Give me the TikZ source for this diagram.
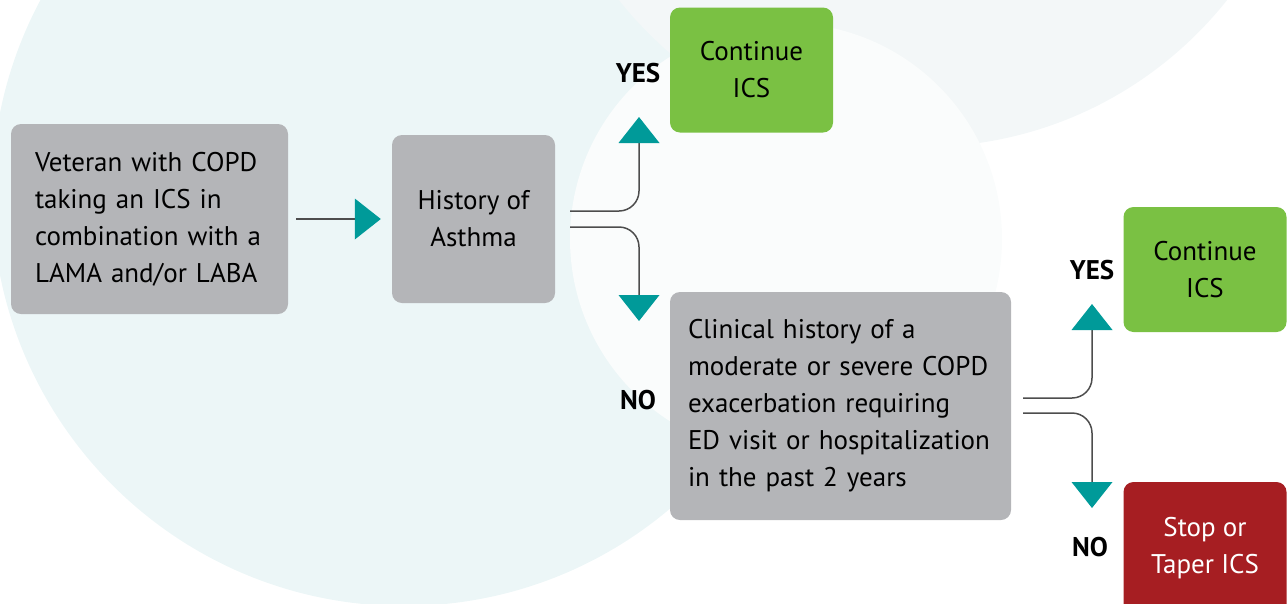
\documentclass[tikz,border=0pt]{standalone}
\usepackage{fontspec}
\setmainfont{PT Sans}
\usetikzlibrary{arrows.meta}
\definecolor{boxgrey}{HTML}{B4B5B8}
\definecolor{okgreen}{HTML}{7AC143}
\definecolor{stopred}{HTML}{A61E22}
\definecolor{arrowteal}{HTML}{009A99}
\definecolor{linegrey}{HTML}{4D4D4D}
\definecolor{bgteal}{HTML}{ECF6F7}
\definecolor{bggrey}{HTML}{F3F7F8}
\definecolor{bgwhite}{HTML}{FAFCFC}
\begin{document}
\begin{tikzpicture}[x=1pt,y=-1pt,
    box/.style={rounded corners=10pt,inner sep=0pt,font=\fontsize{27}{37}\selectfont},
    greybox/.style={box,fill=boxgrey,align=left},
    okbox/.style={box,fill=okgreen,align=center,minimum width=163pt,minimum height=125pt},
    stopbox/.style={box,fill=stopred,text=white,align=center,minimum width=163pt,minimum height=132pt},
    answer/.style={font=\fontsize{27}{27}\selectfont\bfseries},
    link/.style={draw=linegrey,line width=1.5pt,rounded corners=20pt,
      -{Triangle[width=41pt,length=26pt,color=arrowteal,line width=0pt]}}]
      % the page, in pixels of the original
      \useasboundingbox (0,0) rectangle (1287,603);
      \clip (0,0) rectangle (1287,603);
      %%%% the background circles
      \fill[bgteal] (404,194) circle[radius=412];
      \fill[bggrey] (923,-241) circle[radius=388];
      \fill[bgwhite] (786,239) circle[radius=216];
      %%%% the boxes
      \node[greybox,minimum width=277pt,minimum height=190pt,text width=229pt] (veteran) at (149.5,219)
        {Veteran with COPD\\taking an ICS in\\combination with a\\LAMA and/or LABA};
      \node[greybox,align=center,minimum width=163pt,minimum height=168pt] (asthma) at (473.5,219)
        {History of\\Asthma};
      \node[greybox,minimum width=341pt,minimum height=228pt,text width=305pt] (clinical) at (840.5,406)
        {Clinical history of a\\moderate or severe COPD\\exacerbation requiring\\ED visit or hospitalization\\in the past 2 years};
      \node[okbox] (contA) at (751.5,70) {\raisebox{-4pt}{Continue}\\\raisebox{-4pt}{ICS}};
      \node[okbox] (contB) at (1205,269.5) {\raisebox{-4pt}{Continue}\\\raisebox{-4pt}{ICS}};
      \node[stopbox] (stop) at (1205,548) {Stop or\\Taper ICS};
      %% the answers
      \node[answer] (yesA) at (638,73) {YES};
      \node[answer] (noA) at (638,400) {NO};
      \node[answer] (yesB) at (1092,270) {YES};
      \node[answer] (noB) at (1090,547) {NO};
      %%%% the arrows
      \coordinate (tipA) at (639,117);
      \coordinate (tipB) at (639,321);
      \coordinate (tipC) at (1092,304);
      \coordinate (tipD) at (1092,508);
      \draw[link,shorten <=8pt,shorten >=11pt] (veteran.east) -- (asthma.west);
      \draw[link] ([xshift=15pt,yshift=8pt]asthma.east) -| (tipA);
      \draw[link] ([xshift=15pt,yshift=-8pt]asthma.east) -| (tipB);
      \draw[link] ([xshift=12pt,yshift=8pt]clinical.east) -| (tipC);
      \draw[link] ([xshift=12pt,yshift=-7pt]clinical.east) -| (tipD);
\end{tikzpicture}
\end{document}
